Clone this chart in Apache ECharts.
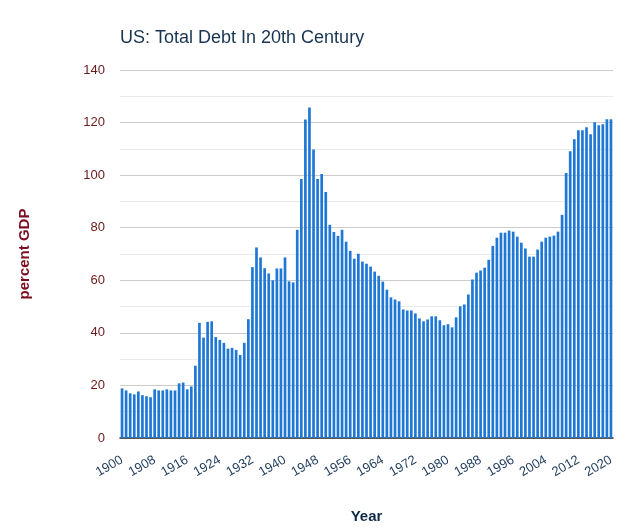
<!DOCTYPE html>
<html>
<head>
<meta charset="utf-8">
<script src="https://cdn.jsdelivr.net/npm/echarts@6/dist/echarts.min.js"></script>
<style>
  html, body { margin: 0; padding: 0; background: #fff; }
  #chart { width: 641px; height: 532px; }
</style>
</head>
<body>
<div id="chart"></div>
<script>
const startYear = 1900;
const endYear = 2020;
const years = [];
for (let y = startYear; y <= endYear; y++) years.push(String(y));

const debtPctGDP = [
  18.9, 18.1, 17.0, 16.6, 17.7, 16.3, 15.9, 15.5, 18.5, 18.1,   // 1900-1909
  18.1, 18.5, 18.1, 18.1, 20.8, 21.1, 18.5, 19.6, 27.5, 43.8,   // 1910-1919
  38.2, 44.2, 44.4, 38.4, 37.3, 36.2, 34.0, 34.3, 33.5, 31.6,   // 1920-1929
  36.2, 45.2, 65.0, 72.5, 68.7, 64.6, 62.6, 60.0, 64.5, 64.5,   // 1930-1939
  68.7, 59.6, 59.2, 79.2, 98.5, 121.2, 125.7, 109.8, 98.5, 100.4, // 1940-1949
  93.6, 81.1, 78.4, 76.9, 79.2, 74.7, 71.2, 68.2, 70.1, 67.1,   // 1950-1959
  66.3, 65.2, 63.3, 61.7, 59.5, 56.4, 53.5, 52.7, 52.0, 48.9,   // 1960-1969
  48.5, 48.5, 47.4, 45.5, 44.4, 45.1, 46.3, 46.3, 44.8, 42.9,   // 1970-1979
  43.3, 42.1, 45.9, 50.1, 50.8, 54.6, 60.3, 62.9, 63.7, 64.8,   // 1980-1989
  67.8, 73.1, 76.2, 78.1, 78.1, 78.9, 78.5, 76.6, 74.3, 72.1,   // 1990-1999
  69.0, 69.0, 71.7, 74.7, 76.2, 76.6, 77.0, 78.5, 84.9, 100.8,  // 2000-2009
  109.1, 113.7, 117.1, 117.1, 118.2, 115.6, 120.1, 119.0, 119.4, 121.3, // 2010-2019
  121.3                                                          // 2020
];

const titleText = 'US: Total Debt In 20th Century';
const xAxisTitle = 'Year';
const yAxisTitle = 'percent GDP';

const FONT = "'Liberation Sans', Arial, sans-serif";

const chart = echarts.init(document.getElementById('chart'), null, { renderer: 'canvas' });
chart.setOption({
  animation: false,
  backgroundColor: '#ffffff',
  title: {
    text: titleText,
    left: 115,
    top: 24,
    textStyle: { fontFamily: FONT, fontSize: 18, fontWeight: 'normal', color: '#173452' }
  },
  grid: { left: 120, right: 28, top: 70, bottom: 94, containLabel: false },
  xAxis: {
    type: 'category',
    data: years,
    name: xAxisTitle,
    nameLocation: 'middle',
    nameGap: 71,
    nameTextStyle: { fontFamily: FONT, fontSize: 15, fontWeight: 'bold', color: '#0f2b47' },
    axisLine: { show: true, lineStyle: { color: '#333333', width: 1.5 } },
    axisTick: { show: false },
    axisLabel: {
      interval: 7,
      rotate: 30,
      margin: 21,
      fontFamily: FONT,
      fontSize: 13,
      color: '#1d3a5c'
    },
    splitLine: { show: false }
  },
  yAxis: {
    type: 'value',
    min: 0,
    max: 140,
    interval: 20,
    name: yAxisTitle,
    nameLocation: 'middle',
    nameGap: 88,
    nameRotate: 90,
    nameTextStyle: { fontFamily: FONT, fontSize: 15, fontWeight: 'bold', color: '#7a0f22' },
    axisLine: { show: false },
    axisTick: { show: false },
    axisLabel: { margin: 15, fontFamily: FONT, fontSize: 13, color: '#6b1a1a' },
    splitLine: { show: true, lineStyle: { color: '#cccccc', width: 1 } },
    minorTick: { show: false, splitNumber: 2 },
    minorSplitLine: { show: true, lineStyle: { color: '#ebebeb', width: 1 } }
  },
  series: [{
    type: 'bar',
    data: debtPctGDP,
    barCategoryGap: '34%',
    itemStyle: { color: '#1f78d6' }
  }]
});
</script>
</body>
</html>
